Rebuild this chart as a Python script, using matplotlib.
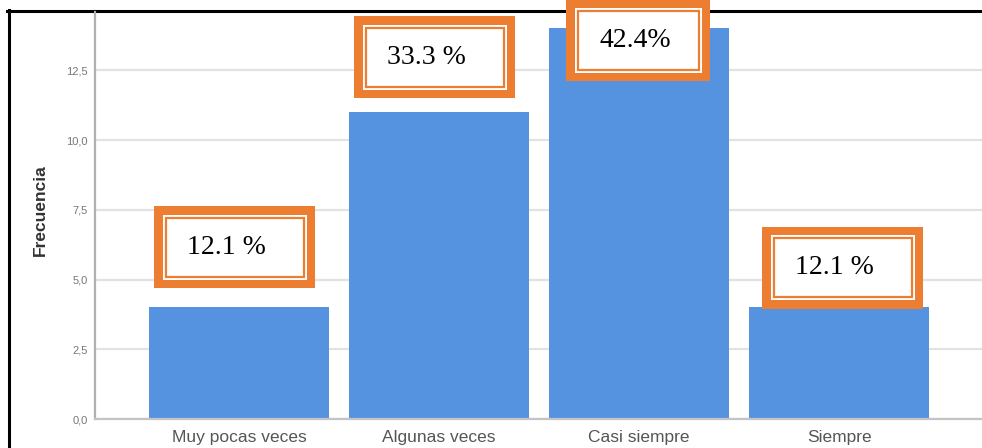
import matplotlib.pyplot as plt
from matplotlib.patches import Rectangle
from matplotlib.lines import Line2D
from matplotlib.ticker import FuncFormatter

# data
categorias = ['Muy pocas veces', 'Algunas veces', 'Casi siempre', 'Siempre']
frecuencia = [4, 11, 14, 4]
etiquetas = ['12.1 %', '33.3 %', '42.4%', '12.1 %']
yticks = [0.0, 2.5, 5.0, 7.5, 10.0, 12.5]

# where the orange callouts sit (data units: centre x, centre y, width)
caja_x = [-0.0225, 0.9775, 1.995, 3.0175]
caja_y = [6.165, 12.97, 13.58, 5.43]
caja_w = [0.805, 0.805, 0.72, 0.805]
caja_h = 2.94

W, H = 982, 448
fig = plt.figure(figsize=(W / 100, H / 100), dpi=100)
ax = fig.add_axes([95 / W, 29 / H, 887 / W, 407 / H])
ax.patch.set_visible(False)

naranja = '#ED7D31'
azul = '#5592E0'

x = list(range(len(categorias)))
ax.bar(x, frecuencia, width=0.9, color=azul, zorder=2)

ax.set_xlim(-0.72, 3.715)
ax.set_ylim(0, 14.59)
ax.set_yticks(yticks)
ax.yaxis.set_major_formatter(FuncFormatter(lambda v, p: '{:.1f}'.format(v).replace('.', ',')))
ax.set_xticks(x)
ax.set_xticklabels(categorias, fontfamily='Liberation Sans', fontsize=12.5, color='#555555')
for t in ax.get_yticklabels():
    t.set_fontfamily('Liberation Sans')
    t.set_fontsize(8)
    t.set_color('#777777')
ax.tick_params(axis='y', length=0, pad=5)
ax.tick_params(axis='x', length=0, pad=8)

ax.grid(axis='y', color='#e2e2e2', linewidth=1.6, zorder=0)
ax.set_axisbelow(True)
for s in ['top', 'right']:
    ax.spines[s].set_visible(False)
ax.spines['left'].set_color('#b0b0b0')
ax.spines['left'].set_linewidth(1.6)
ax.spines['bottom'].set_color('#c4c4c4')
ax.spines['bottom'].set_linewidth(1.6)

fig.text(40 / W, 1 - 210 / H, 'Frecuencia', rotation=90, ha='center', va='center',
         fontfamily='Liberation Sans', fontweight='bold', fontsize=12.5, color='#333333')

# black frame (left and top)
fig.add_artist(Line2D([8.5 / W, 8.5 / W], [0, 1 - 10 / H], color='black', lw=2.2, zorder=-1))
fig.add_artist(Line2D([7 / W, 1], [1 - 11.5 / H, 1 - 11.5 / H], color='black', lw=2.2, zorder=-1))

# callouts with double orange border
px = 1 / 200.0   # data units per pixel in x
py = 1 / 27.9    # data units per pixel in y
for cx, cy, w, txt in zip(caja_x, caja_y, caja_w, etiquetas):
    x0, y0 = cx - w / 2, cy - caja_h / 2
    ax.add_patch(Rectangle((x0, y0), w, caja_h, facecolor=naranja, edgecolor='none',
                           zorder=5, clip_on=False))
    ax.add_patch(Rectangle((x0 + 8.5 * px, y0 + 8.5 * py), w - 17 * px, caja_h - 17 * py,
                           facecolor='white', edgecolor='none', zorder=6, clip_on=False))
    ax.add_patch(Rectangle((x0 + 11.5 * px, y0 + 11.5 * py), w - 23 * px, caja_h - 23 * py,
                           facecolor='white', edgecolor=naranja, lw=1.6, zorder=7, clip_on=False))
    ax.text(x0 + 33 * px, cy, txt, ha='left', va='center', fontfamily='Liberation Serif',
            fontsize=20, color='black', zorder=8, clip_on=False)

fig.savefig('out.png', dpi=100)
